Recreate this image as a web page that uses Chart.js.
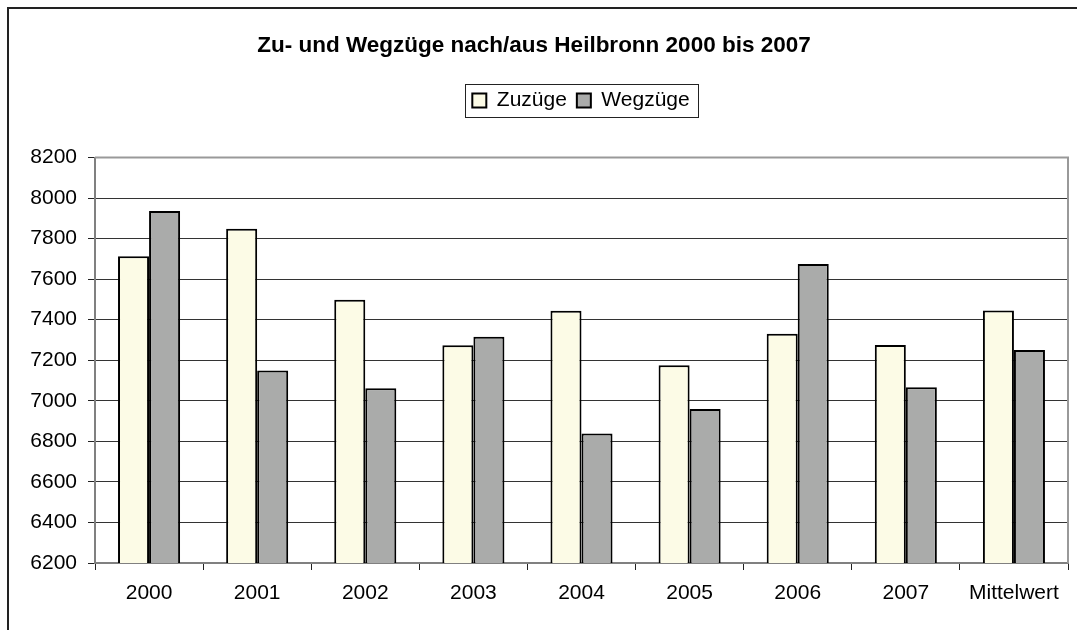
<!DOCTYPE html>
<html>
<head>
<meta charset="utf-8">
<script src="https://cdn.jsdelivr.net/npm/chart.js@4/dist/chart.umd.min.js"></script>
<style>
  html, body { margin: 0; padding: 0; background: #fff; }
  #wrap { width: 1077px; height: 630px; position: relative; }
</style>
</head>
<body>
<div id="wrap"><canvas id="c" width="1077" height="630"></canvas></div>
<script>
const categories = ["2000", "2001", "2002", "2003", "2004", "2005", "2006", "2007", "Mittelwert"];
const zuzuege = [7713, 7849, 7498, 7274, 7444, 7175, 7331, 7275, 7445];
const wegzuege = [7936, 7149, 7062, 7316, 6839, 6959, 7675, 7067, 7250];
const yMin = 6200;
const yMax = 8200;
const yStep = 200;

const FONT = "'Liberation Sans', Arial, sans-serif";

// frame, plot border and the box around the legend
const decorations = {
  id: "decorations",
  afterLayout(chart) {
    // legend sits a bit right of centre in the original
    chart.legend.left += 47;
    chart.legend.right += 47;
  },
  beforeDraw(chart) {
    const ctx = chart.ctx;
    ctx.save();
    ctx.strokeStyle = "#222";
    ctx.lineWidth = 2;
    ctx.strokeRect(8, 8, 1200, 1200);
    ctx.restore();
  },
  afterDraw(chart) {
    const ctx = chart.ctx;
    const a = chart.chartArea;
    ctx.save();
    ctx.strokeStyle = "#999";
    ctx.lineWidth = 2;
    ctx.beginPath();
    ctx.moveTo(a.left, a.top);
    ctx.lineTo(a.right, a.top);
    ctx.lineTo(a.right, a.bottom);
    ctx.stroke();
    const boxes = chart.legend.legendHitBoxes;
    if (boxes && boxes.length) {
      const first = boxes[0];
      const last = boxes[boxes.length - 1];
      const l = first.left - 7;
      const r = last.left + last.width + 9;
      const t = first.top - 6;
      const b = first.top + first.height + 6;
      ctx.strokeStyle = "#222";
      ctx.lineWidth = 1;
      ctx.strokeRect(Math.round(l) + 0.5, Math.round(t) + 0.5, Math.round(r - l), Math.round(b - t));
    }
    ctx.restore();
  }
};

new Chart(document.getElementById("c"), {
  type: "bar",
  data: {
    labels: categories,
    datasets: [
      {
        label: "Zuzüge",
        data: zuzuege,
        backgroundColor: "#FCFBE6",
        borderColor: "#000",
        borderWidth: 2,
      },
      {
        label: "Wegzüge",
        data: wegzuege,
        backgroundColor: "#AAABAA",
        borderColor: "#000",
        borderWidth: 2,
      },
    ],
  },
  options: {
    responsive: false,
    animation: false,
    devicePixelRatio: 1,
    layout: { padding: { left: 0, right: 9, top: 20, bottom: 0 } },
    datasets: {
      bar: { categoryPercentage: 0.574, barPercentage: 1 },
    },
    scales: {
      x: {
        grid: {
          display: true,
          offset: true,
          drawOnChartArea: false,
          tickLength: 7,
          tickColor: "#222",
        },
        border: { color: "#808080", width: 2 },
        ticks: { color: "#000", padding: 11, font: { family: FONT, size: 21 } },
        afterFit: (s) => { s.height = 67; },
      },
      top: {
        type: "linear",
        position: "top",
        display: true,
        grid: { display: false },
        border: { display: false },
        ticks: { display: false },
        afterFit: (s) => { s.height = 36.5; },
      },
      y: {
        min: yMin,
        max: yMax,
        ticks: {
          stepSize: yStep,
          color: "#000",
          padding: 11,
          font: { family: FONT, size: 21 },
          callback: (v) => String(v),
        },
        grid: {
          color: (c) => (c.tick && c.tick.value === yMax ? "#999" : "#333"),
          lineWidth: 1,
          tickLength: 7,
          tickColor: "#222",
        },
        border: { color: "#808080", width: 2 },
        afterFit: (s) => { s.width = 95; },
      },
    },
    plugins: {
      title: {
        display: true,
        text: "Zu- und Wegzüge nach/aus Heilbronn 2000 bis 2007",
        color: "#000",
        font: { family: FONT, size: 22.5, weight: "bold" },
        padding: { top: 12, bottom: 21 },
      },
      legend: {
        display: true,
        position: "top",
        labels: {
          color: "#000",
          boxWidth: 14,
          boxHeight: 14,
          padding: 10,
          font: { family: FONT, size: 21 },
        },
        onClick: null,
      },
      tooltip: { enabled: false },
    },
  },
  plugins: [decorations],
});
</script>
</body>
</html>
